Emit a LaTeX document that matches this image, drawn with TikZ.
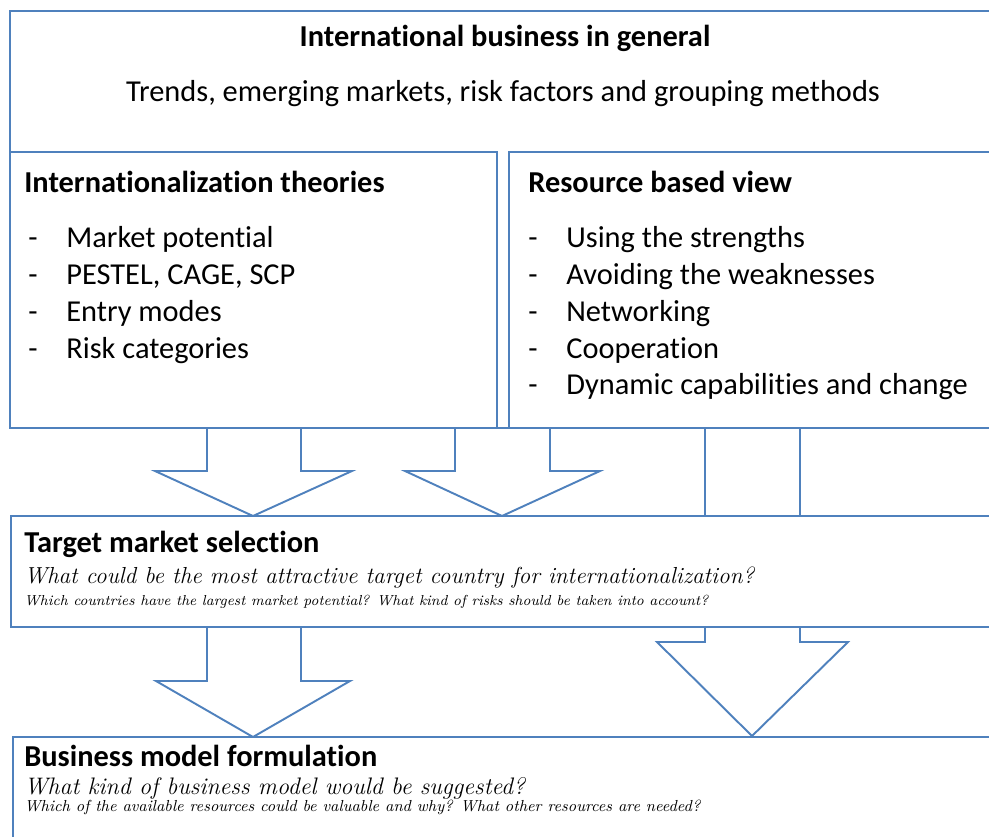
\documentclass[tikz,border=0pt]{standalone}
\usepackage{fontspec}
\newfontfamily\calibri[Ligatures=NoCommon]{Carlito}
\usetikzlibrary{positioning}
\definecolor{panelblue}{RGB}{79,129,189}

\tikzset{
  panel/.style={draw=panelblue, line width=1.1pt, fill=white},
  blockarrow/.style={draw=panelblue, line width=1.1pt, fill=white, line join=miter},
  heading/.style={font=\calibri\bfseries\fontsize{17.3}{20}\selectfont, inner sep=0pt, anchor=base west},
  entry/.style={font=\calibri\fontsize{17.3}{20}\selectfont, inner sep=0pt, anchor=base west},
  question/.style={font=\itshape\fontsize{13.2}{15}\selectfont, inner sep=0pt, anchor=base west},
  subquestion/.style={font=\itshape\fontsize{8.25}{9}\selectfont, inner sep=0pt, anchor=base west},
}

\begin{document}
\begin{tikzpicture}[x=0.02cm, y=-0.02cm]
  \useasboundingbox (0,0) rectangle (989,837);
  \clip (0,0) rectangle (989,837);

  % block arrows first, the boxes are drawn over their tails
  \draw[blockarrow] (207,420) -- (207,471) -- (155,471) -- (253,516) -- (352,471) -- (301,471) -- (301,420);
  \draw[blockarrow] (455,420) -- (455,471) -- (405,471) -- (502,516) -- (600,471) -- (550,471) -- (550,420);
  \draw[blockarrow] (207,620) -- (207,681) -- (156,681) -- (253,737) -- (350,681) -- (301,681) -- (301,620);
  \draw[blockarrow] (705,420) -- (705,642) -- (657,642) -- (752,736) -- (848,642) -- (800,642) -- (800,420);

  % boxes
  \coordinate (topNW) at (10,11);
  \coordinate (topSE) at (1000,428);
  \draw[panel] (topNW) rectangle (topSE);
  \draw[panel] (10,152) rectangle (497,428);
  \draw[panel] (509,152) rectangle (1000,428);
  \draw[panel] (11,516) rectangle (1000,627);
  \draw[panel] (13,737) rectangle (1000,900);

  % top box
  \node[heading, anchor=base] (general) at (505,47) {International business in general};
  \node[entry, anchor=base] (trends) at (503,102) {Trends, emerging markets, risk factors and grouping methods};

  % the two theory boxes
  \node[heading] (theories) at (24,193) {Internationalization theories};
  \foreach \txt [count=\i] in {Market potential, {PESTEL, CAGE, SCP}, Entry modes, Risk categories} {
    \node[entry] (dashL\i) at (28,211.3+36.7*\i) {-};
    \node[entry] (itemL\i) at (66,211.3+36.7*\i) {\txt};
  }
  \node[heading] (rbv) at (528,193) {Resource based view};
  \foreach \txt [count=\i] in {Using the strengths, Avoiding the weaknesses, Networking, Cooperation, Dynamic capabilities and change} {
    \node[entry] (dashR\i) at (528,211.3+36.7*\i) {-};
    \node[entry] (itemR\i) at (566,211.3+36.7*\i) {\txt};
  }

  % target market
  \node[heading] (target) at (24,552) {Target market selection};
  \node[question] (targetq) at (24,583) {What could be the most attractive target country for internationalization?};
  \node[subquestion] (targetsub) at (24,605) {Which countries have the largest market potential? What kind of risks should be taken into account?};

  % business model
  \node[heading] (model) at (24,766) {Business model formulation};
  \node[question, font=\itshape\fontsize{13.6}{15}\selectfont] (modelq) at (24,794) {What kind of business model would be suggested?};
  \node[subquestion, font=\itshape\fontsize{9.1}{10}\selectfont] (modelsub) at (24,811) {Which of the available resources could be valuable and why? What other resources are needed?};
\end{tikzpicture}
\end{document}
